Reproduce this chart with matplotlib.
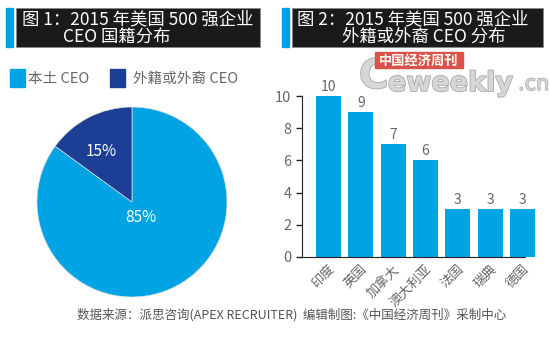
import matplotlib.pyplot as plt
from matplotlib.patches import Rectangle
import matplotlib.patheffects as pe

plt.rcParams['font.family'] = ['Noto Sans CJK SC', 'DejaVu Sans']

# 数据
pie_labels = ['本土 CEO', '外籍或外裔 CEO']
pie_values = [85, 15]
countries = ['印度', '英国', '加拿大', '澳大利亚', '法国', '瑞典', '德国']
counts = [10, 9, 7, 6, 3, 3, 3]
y_ticks = [0, 2, 4, 6, 8, 10]

light_blue = '#00A3E4'
dark_blue = '#1C3F95'
gray_txt = '#666666'

W, H = 550, 347
fig = plt.figure(figsize=(5.5, 3.47), dpi=100)


def fx(x):
    return x / W


def fy(y):
    return 1 - y / H


def title_box(x0, x1, lines):
    # barra azul + caja negra
    fig.patches.append(Rectangle((fx(x0 - 10), fy(47)), fx(7), 39 / H,
                                 transform=fig.transFigure, color='#00A0E9'))
    fig.patches.append(Rectangle((fx(x0), fy(47)), fx(x1 - x0), 39 / H,
                                 transform=fig.transFigure, facecolor='#1a1a1a',
                                 edgecolor='#888888', linewidth=0.6))
    for (tx, ty, s) in lines:
        fig.text(fx(tx), fy(ty), s, color='white', fontsize=12.5,
                 ha='left', va='center')


title_box(16, 260, [(22, 19, '图 1：2015 年美国 500 强企业'),
                    (63, 37, 'CEO 国籍分布')])
title_box(292, 543, [(297, 19, '图 2：2015 年美国 500 强企业'),
                     (342, 37, '外籍或外裔 CEO 分布')])

# leyenda del pastel
for (sx, tx, c, lab) in [(10, 28, light_blue, pie_labels[0]),
                         (110, 133, dark_blue, pie_labels[1])]:
    fig.patches.append(Rectangle((fx(sx), fy(87)), fx(15), 18 / H,
                                 transform=fig.transFigure, color=c))
    fig.text(fx(tx), fy(79), lab, color=gray_txt, fontsize=10.5,
             ha='left', va='center')

# pastel
ax1 = fig.add_axes([fx(37), fy(297), fx(190), 190 / H])
wedges, texts = ax1.pie(pie_values, colors=[light_blue, dark_blue],
                        startangle=90, counterclock=False,
                        wedgeprops=dict(linewidth=0.5, edgecolor='#dddddd'))
ax1.set_xlim(-1, 1)
ax1.set_ylim(-1, 1)
ax1.set_aspect('equal')
ax1.text(0.09, -0.16, f'{pie_values[0]}%', color='white', fontsize=11,
         ha='center', va='center')
ax1.text(-0.32, 0.53, f'{pie_values[1]}%', color='white', fontsize=11,
         ha='center', va='center')

# barras
ax2 = fig.add_axes([fx(302), fy(257), fx(223), 161 / H])
xs = range(len(countries))
ax2.bar(xs, counts, width=0.77, color=light_blue, clip_on=False, zorder=2)
for x, v in zip(xs, counts):
    ax2.text(x, v + 0.12, str(v), ha='center', va='bottom', color=gray_txt,
             fontsize=10, clip_on=False, zorder=7)
ax2.set_xlim(-0.82, 6.08)
ax2.set_ylim(0, 10)
ax2.set_yticks(y_ticks)
ax2.set_xticks(list(xs))
ax2.set_xticklabels(countries, rotation=45, ha='right', va='top',
                    rotation_mode='anchor', color=gray_txt, fontsize=9.5)
ax2.tick_params(axis='y', colors='#222222', labelcolor=gray_txt,
                labelsize=10.5, length=4, width=1)
ax2.tick_params(axis='x', length=0, pad=4)
for s in ['top', 'right']:
    ax2.spines[s].set_visible(False)
ax2.spines['left'].set_color('#222222')
ax2.spines['bottom'].set_color('#222222')
ax2.spines['bottom'].set_zorder(3)
ax2.patch.set_alpha(0)

# marca de agua
fig.patches.append(Rectangle((fx(375), fy(68)), fx(88), 16 / H,
                             transform=fig.transFigure, color='#D9534A', zorder=5))
fig.text(fx(419), fy(60.5), '中国经济周刊', color='white', fontsize=9.5,
         weight='bold', ha='center', va='center', zorder=6)
wm = dict(color='#d6d6d6', weight='bold', family='DejaVu Sans', zorder=4,
          path_effects=[pe.withStroke(linewidth=1.2, foreground='#aaaaaa')])
fig.text(fx(359), fy(88), 'C', fontsize=29, ha='left', va='baseline', **wm)
fig.text(fx(388), fy(91), 'eweekly', fontsize=19.5, ha='left', va='baseline', **wm)
fig.text(fx(518), fy(90), '.cn', fontsize=15, ha='left', va='baseline',
         color='#d6d6d6', family='DejaVu Sans', zorder=4,
         path_effects=[pe.withStroke(linewidth=1.0, foreground='#aaaaaa')])

# fuente
fig.text(fx(77), fy(315), '数据来源：派思咨询(APEX RECRUITER)  编辑制图:《中国经济周刊》采制中心',
         color='#555555', fontsize=9, ha='left', va='center')

fig.savefig('out.png', dpi=100)
